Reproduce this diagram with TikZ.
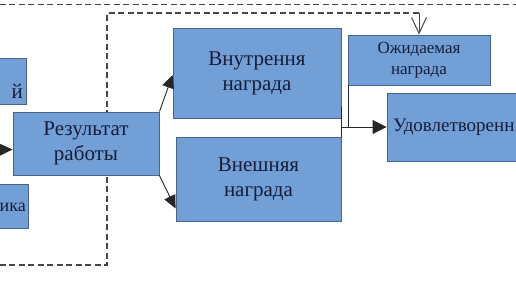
\documentclass[tikz,border=0pt]{standalone}
\usepackage{fontspec}
\setmainfont{Liberation Serif}
\usetikzlibrary{arrows.meta,backgrounds}
\definecolor{boxfill}{RGB}{114,159,214}
\definecolor{boxline}{RGB}{72,100,140}
\definecolor{boxtext}{RGB}{22,28,58}
\definecolor{dashcol}{RGB}{70,70,70}
\tikzset{
  box/.style={draw=boxline, line width=0.9pt, fill=boxfill, text=boxtext, align=center, inner sep=0pt},
  lbl/.style={text=boxtext, inner sep=0pt},
  bigtext/.style={font=\fontsize{21}{25}\selectfont},
  midtext/.style={font=\fontsize{17}{21}\selectfont},
  conn/.style={draw=black!85, line width=0.9pt},
  tipfill/.style={-{Triangle[length=13pt,width=12pt]}},
  dashline/.style={draw=dashcol, line width=1.3pt, dash pattern=on 6pt off 3.5pt},
  openarrow/.style={-{Straight Barb[length=16pt,width=15pt,line width=1pt]}},
}
\begin{document}
\begin{tikzpicture}[x=1pt,y=-1pt]
\useasboundingbox (0,0) rectangle (516,290);
\clip (0,0) rectangle (516,290);
% boxes
\node[box, minimum width=106pt, minimum height=46pt] (lt) at (-27,81) {};
\node[lbl, bigtext, anchor=base east] (ltt) at (23,98) {й};
\node[box, minimum width=110pt, minimum height=44pt] (lb) at (-26.5,206) {};
\node[lbl, font=\fontsize{18}{22}\selectfont, anchor=base east] (lbt) at (26,211) {ика};
\node[box, minimum width=146pt, minimum height=63pt, bigtext] (rez) at (86,143.5) {Результат\\работы};
\node[box, minimum width=168pt, minimum height=90pt, bigtext] (vnut) at (257,73) {Внутрення\\награда};
\node[box, minimum width=165pt, minimum height=84pt, bigtext] (vnesh) at (258.5,179) {Внешняя\\награда};
\node[box, minimum width=142pt, minimum height=50pt, midtext] (ozh) at (419,60) {Ожидаемая\\награда};
\node[box, minimum height=68pt, text width=143pt, align=left, inner xsep=6pt, font=\fontsize{19}{23}\selectfont] (udov) at (464.5,127) {Удовлетворенн};
% free ends
\coordinate (lin) at (-20,150);
\coordinate (tl) at (-10,4.5);
\coordinate (tr) at (530,4.5);
\coordinate (dstart) at (-10,265);
\coordinate (d1) at (107,265);
\coordinate (d2) at (107,13);
\coordinate (d3) at (ozh.north |- d2);
\coordinate (j1) at (vnut.east |- udov.west);
% connectors
\draw[conn, tipfill] (lin) -- ([yshift=-6pt]rez.west);
\draw[conn, tipfill] (rez.north east) -- ([yshift=-2pt]vnut.west);
\draw[conn, tipfill] (rez.south east) -- ([yshift=13pt]vnesh.south west);
\draw[conn] ([yshift=11pt]vnut.south east) -- (vnesh.north east);
\draw[conn] ([xshift=1pt]ozh.south west) -- ([xshift=1pt]ozh.south west |- j1);
\draw[conn, -{Triangle[length=14pt,width=14pt]}] (j1) -- (udov.west);
% dashed feedback lines (behind the boxes)
\begin{scope}[on background layer]
\draw[dashline] (tl) -- (tr);
\draw[dashline] (dstart) -- (d1) -- (d2) -- (d3);
\draw[draw=dashcol, line width=1pt, openarrow] (d3) -- (ozh.north);
\end{scope}
\end{tikzpicture}
\end{document}
